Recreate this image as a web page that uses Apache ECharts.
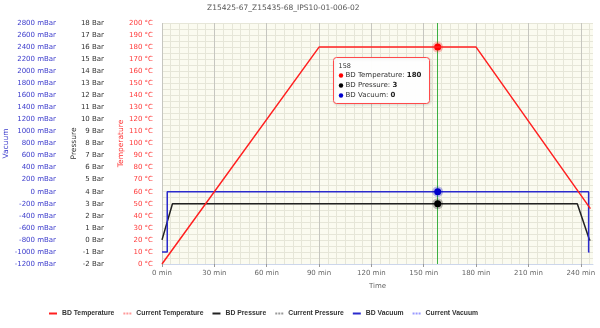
<!DOCTYPE html>
<html><head><meta charset="utf-8">
<script src="https://cdn.jsdelivr.net/npm/echarts@6/dist/echarts.min.js"></script>
<style>html,body{margin:0;padding:0;background:#fff}#c{width:600px;height:328px}</style>
</head><body><div id="c"></div>
<script>
// ---- data ----
const chartTitle = 'Z15425-67_Z15435-68_IPS10-01-006-02';
const seriesNames = ['BD Temperature', 'Current Temperature', 'BD Pressure', 'Current Pressure', 'BD Vacuum', 'Current Vacuum'];
const tempTime = [0, 90, 180, 245.5];
const tempValues = [0, 180, 180, 46];
const pressureTime = [0, 6, 238, 245, 245.5];
const pressureValues = [0, 3, 3, 0, 0];
const vacuumTime = [0, 3, 3, 244.5, 244.5, 245];
const vacuumValues = [-1000, -1000, 0, 0, -1000, -1000];
const currentTemp = [];
const currentPressure = [];
const currentVacuum = [];
const hoverTime = 158;
const hoverTemp = 180;
const hoverPressure = 3;
const hoverVacuum = 0;
const timeMax = 247;
const tempAxis = { min: 0, max: 200, interval: 10, unit: '°C', name: 'Temperature' };
const pressureAxis = { min: -2, max: 18, interval: 1, unit: 'Bar', name: 'Pressure' };
const vacuumAxis = { min: -1200, max: 2800, interval: 200, unit: 'mBar', name: 'Vacuum' };

// ---- styles ----
const FONT = 'DejaVu Sans';
const RED = '#ff2020', BLACK = '#222222', BLUE = '#2a2acc';
const pairs = (xs, ys) => xs.map((x, i) => [x, ys[i]]);
const dotted = 'path://M0,0h2v2h-2zM3,0h2v2h-2zM6,0h2v2h-2z';

function yAx(a, color, labelColor, offset, nameGap, grid) {
  return {
    type: 'value', position: 'left', offset: offset, min: a.min, max: a.max, interval: a.interval,
    name: a.name, nameLocation: 'middle', nameRotate: 90, nameGap: nameGap, nameMoveOverlap: false,
    nameTextStyle: { color: color, fontFamily: FONT, fontSize: 7.5 },
    axisLine: { show: false }, axisTick: { show: false },
    axisLabel: { color: labelColor, fontFamily: FONT, fontSize: 7, margin: 9, formatter: v => v + ' ' + a.unit },
    splitLine: { show: grid, lineStyle: { color: '#e6e6d8', width: 1 } },
    minorTick: { show: false, splitNumber: 2 },
    minorSplitLine: { show: grid, lineStyle: { color: '#e6e6d8', width: 1 } },
    z: 0
  };
}

function marker(val, color, halo) {
  return {
    symbol: 'circle', symbolSize: 7, silent: true, animation: false,
    label: { show: false },
    itemStyle: { color: color, borderColor: halo, borderWidth: 4 },
    data: [{ coord: [hoverTime, val] }]
  };
}

const richStyle = {
  n: { fill: '#333', fontFamily: FONT, fontSize: 7 },
  b: { fill: '#222', fontFamily: FONT, fontSize: 7, fontWeight: 'bold' }
};
function tipRow(y, color, name, val) {
  return [
    { type: 'circle', z: 101, shape: { cx: 7.5, cy: y, r: 2.2 }, style: { fill: color } },
    { type: 'text', z: 101, x: 12, y: y, style: { verticalAlign: 'middle', text: '{n|' + name + ': }{b|' + val + '}', rich: richStyle } }
  ];
}

const chart = echarts.init(document.getElementById('c'));
chart.setOption({
  animation: false,
  backgroundColor: '#ffffff',
  title: {
    text: chartTitle, left: 207, top: 4, padding: 0,
    textStyle: { color: '#555', fontFamily: FONT, fontSize: 7.5, fontWeight: 'normal' }
  },
  grid: { left: 162, right: 7, top: 23, bottom: 64, show: true, backgroundColor: '#fbfbf0', borderWidth: 0,
    containLabel: false, outerBoundsMode: 'none' },
  legend: {
    left: 49, top: 310, padding: 0, itemGap: 9, itemWidth: 8, itemHeight: 2,
    textStyle: { color: '#333', fontFamily: 'Liberation Sans', fontSize: 6.8, fontWeight: 'bold' },
    data: [
      { name: seriesNames[0], icon: 'rect' },
      { name: seriesNames[1], icon: dotted },
      { name: seriesNames[2], icon: 'rect' },
      { name: seriesNames[3], icon: dotted },
      { name: seriesNames[4], icon: 'rect' },
      { name: seriesNames[5], icon: dotted }
    ]
  },
  xAxis: [{
    type: 'value', min: 0, max: timeMax, interval: 30, z: 1,
    name: 'Time', nameLocation: 'middle', nameGap: 19, nameMoveOverlap: false,
    nameTextStyle: { color: '#666', fontFamily: FONT, fontSize: 7 },
    axisLine: { show: true, onZero: false, lineStyle: { color: '#ccd6eb' } },
    axisTick: { show: true, length: 3, lineStyle: { color: '#999' } },
    axisLabel: { color: '#666', fontFamily: FONT, fontSize: 7, margin: 6, showMaxLabel: false,
      formatter: v => (v % 30 === 0 ? v + ' min' : '') },
    splitLine: { show: true, showMaxLine: false, lineStyle: { color: '#c6c6c0', width: 1 } }
  }, {
    type: 'value', min: 0, max: timeMax, interval: 5, z: 0, position: 'bottom',
    axisLine: { show: false }, axisTick: { show: false }, axisLabel: { show: false },
    splitLine: { show: true, showMaxLine: false, lineStyle: { color: '#e6e6d8', width: 1 } }
  }],
  yAxis: [
    yAx(tempAxis, '#ff3030', '#ff3b3b', 0, 37, true),
    yAx(pressureAxis, '#333', '#333', 49, 35, false),
    yAx(vacuumAxis, '#3c3ccc', '#3c3ccc', 97, 55, false)
  ],
  series: [
    { name: seriesNames[0], type: 'line', yAxisIndex: 0, data: pairs(tempTime, tempValues), showSymbol: false,
      color: RED, lineStyle: { color: RED, width: 1.5 }, z: 5,
      markLine: { silent: true, symbol: ['none', 'none'], label: { show: false }, animation: false, z: 1,
        lineStyle: { color: '#3cb043', width: 1, type: 'solid' }, data: [{ xAxis: hoverTime }] },
      markPoint: marker(hoverTemp, '#ff0000', 'rgba(255,0,0,0.25)') },
    { name: seriesNames[1], type: 'line', yAxisIndex: 0, data: currentTemp, showSymbol: false,
      color: '#ff9999', lineStyle: { color: '#ff9999', width: 1, type: 'dotted' } },
    { name: seriesNames[2], type: 'line', yAxisIndex: 1, data: pairs(pressureTime, pressureValues), showSymbol: false,
      color: BLACK, lineStyle: { color: BLACK, width: 1.5 }, z: 4,
      markPoint: marker(hoverPressure, '#000000', 'rgba(0,0,0,0.25)') },
    { name: seriesNames[3], type: 'line', yAxisIndex: 1, data: currentPressure, showSymbol: false,
      color: '#999999', lineStyle: { color: '#999999', width: 1, type: 'dotted' } },
    { name: seriesNames[4], type: 'line', yAxisIndex: 2, data: pairs(vacuumTime, vacuumValues), showSymbol: false,
      color: BLUE, lineStyle: { color: BLUE, width: 1.5 }, z: 4,
      markPoint: marker(hoverVacuum, '#0000cc', 'rgba(0,0,200,0.25)') },
    { name: seriesNames[5], type: 'line', yAxisIndex: 2, data: currentVacuum, showSymbol: false,
      color: '#9999ff', lineStyle: { color: '#9999ff', width: 1, type: 'dotted' } }
  ],
  graphic: [{
    type: 'group', left: 333, top: 57, z: 100,
    children: [
      { type: 'rect', z: 100, shape: { x: 0, y: 0, width: 96, height: 46, r: 3 },
        style: { fill: 'rgba(255,255,255,0.97)', stroke: '#ff4a4a', lineWidth: 1,
          shadowBlur: 3, shadowColor: 'rgba(0,0,0,0.12)', shadowOffsetX: 1, shadowOffsetY: 1 } },
      { type: 'text', z: 101, x: 5, y: 9, style: { text: String(hoverTime), fill: '#333', font: '6.5px "DejaVu Sans"', verticalAlign: 'middle' } }
    ].concat(
      tipRow(18, '#ff0000', seriesNames[0], hoverTemp),
      tipRow(28, '#000000', seriesNames[2], hoverPressure),
      tipRow(38, '#0000cc', seriesNames[4], hoverVacuum)
    )
  }]
});
</script>
</body></html>
